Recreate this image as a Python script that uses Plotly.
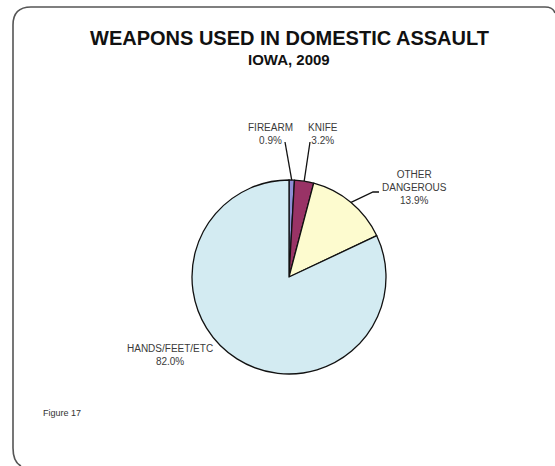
import math
import plotly.graph_objects as go

# Weapon categories and their share of domestic assaults (percent)
categories = ["FIREARM", "KNIFE", "OTHER DANGEROUS", "HANDS/FEET/ETC"]
label_lines = ["FIREARM", "KNIFE", "OTHER<br>DANGEROUS", "HANDS/FEET/ETC"]
shares = [0.9, 3.2, 13.9, 82.0]
colors = ["#8e8fd6", "#993366", "#fdfbcf", "#d3ebf2"]

W, H = 555, 466
CX, CY, R = 289, 277, 97  # pie centre and radius, pixels


def px(x):
    return x / W


def py(y):
    return 1 - y / H


fig = go.Figure()
fig.add_trace(go.Pie(
    labels=categories,
    values=shares,
    sort=False,
    direction="clockwise",
    rotation=0,
    marker=dict(colors=colors, line=dict(color="#111111", width=1.3)),
    textinfo="none",
    hoverinfo="label+percent",
    showlegend=False,
    domain=dict(x=[px(CX - R), px(CX + R)], y=[py(CY + R), py(CY - R)]),
))

# Label placement: text centre (pixels) and outer end of the leader line
placement = {
    "FIREARM": dict(text=(270, 134), lead=[(285, 142)]),
    "KNIFE": dict(text=(323, 134), lead=[(310, 142)]),
    "OTHER DANGEROUS": dict(text=(414, 187), lead=[(379, 192), (373, 192)]),
    "HANDS/FEET/ETC": dict(text=(170, 355), lead=None),
}

shapes = []
annotations = []
total = sum(shares)
cum = 0.0
for name, lines, v in zip(categories, label_lines, shares):
    mid = (cum + v / 2) / total * 2 * math.pi
    cum += v
    ex = CX + R * math.sin(mid)
    ey = CY - R * math.cos(mid)
    p = placement[name]
    if p["lead"]:
        pts = p["lead"] + [(ex, ey)]
        path = "M " + " L ".join(f"{px(a):.5f},{py(b):.5f}" for a, b in pts)
        shapes.append(dict(type="path", xref="paper", yref="paper", path=path,
                           line=dict(color="#111111", width=1.3)))
    tx, ty = p["text"]
    annotations.append(dict(
        x=px(tx), y=py(ty), xref="paper", yref="paper", showarrow=False,
        text=f"{lines}<br>{v:.1f}%", align="center",
        font=dict(family="Liberation Sans, Arial, sans-serif", size=10, color="#3a3a3a"),
        xanchor="center", yanchor="middle",
    ))

# Titles and figure caption
annotations.append(dict(
    x=px(289), y=py(38), xref="paper", yref="paper", showarrow=False,
    text="<b>WEAPONS USED IN DOMESTIC ASSAULT</b>", xanchor="center", yanchor="middle",
    font=dict(family="Liberation Sans, Arial, sans-serif", size=20, color="#111111"),
))
annotations.append(dict(
    x=px(289), y=py(60), xref="paper", yref="paper", showarrow=False,
    text="<b>IOWA, 2009</b>", xanchor="center", yanchor="middle",
    font=dict(family="Liberation Sans, Arial, sans-serif", size=15, color="#111111"),
))
annotations.append(dict(
    x=px(41), y=py(413), xref="paper", yref="paper", showarrow=False,
    text="Figure 17", xanchor="left", yanchor="middle",
    font=dict(family="Liberation Sans, Arial, sans-serif", size=9, color="#333333"),
))

# Rounded outer frame: only the left and top sides fall inside the page
L, T, rc = 13, 7, 18
Rt, B = 553, 466
frame = (f"M {px(L)},{py(B + 10)} L {px(L)},{py(B - rc)} "
         f"M {px(L)},{py(T + rc)} Q {px(L)},{py(T)} {px(L + rc)},{py(T)} "
         f"L {px(Rt - 8)},{py(T)} Q {px(Rt)},{py(T)} {px(Rt + 2)},{py(T + 6)}")
shapes.append(dict(type="path", xref="paper", yref="paper",
                   path=f"M {px(L)},{py(B - rc)} L {px(L)},{py(T + rc)} "
                        f"Q {px(L)},{py(T)} {px(L + rc)},{py(T)} "
                        f"L {px(Rt - 8)},{py(T)} Q {px(Rt)},{py(T)} {px(Rt + 2)},{py(T + 6)}",
                   line=dict(color="#555555", width=1.6), layer="below"))
# Bottom-left corner turning toward the lower edge
shapes.append(dict(type="path", xref="paper", yref="paper",
                   path=f"M {px(L)},{py(B - rc)} Q {px(L)},{py(B - 4)} {px(L + 8)},{py(B)}",
                   line=dict(color="#555555", width=1.6), layer="below"))

fig.update_layout(
    width=W, height=H,
    margin=dict(l=0, r=0, t=0, b=0),
    paper_bgcolor="white", plot_bgcolor="white",
    shapes=shapes, annotations=annotations,
)

fig.write_html("out.html")
